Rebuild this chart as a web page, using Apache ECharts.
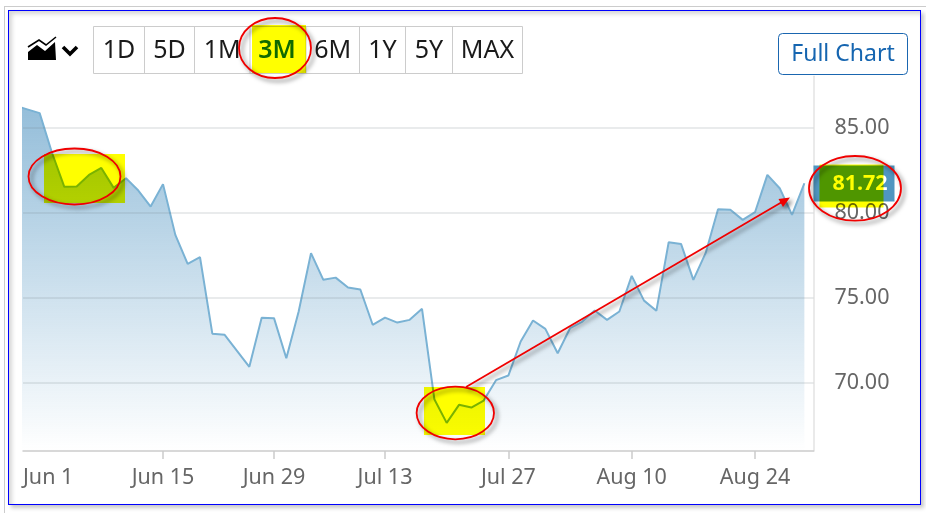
<!DOCTYPE html>
<html>
<head>
<meta charset="utf-8">
<script src="https://cdn.jsdelivr.net/npm/echarts@6/dist/echarts.min.js"></script>
<style>
html,body{margin:0;padding:0;background:#fff;width:926px;height:513px;overflow:hidden}
#outer{position:absolute;left:4px;top:6px;width:930px;height:520px;border:1px solid #ccc;box-sizing:border-box}
#frame{position:absolute;left:8px;top:10px;width:913px;height:495px;border:1px solid #0000ff;box-sizing:border-box;
 box-shadow:3px 3px 4px rgba(0,0,0,.22), inset 3px 3px 4px rgba(0,0,0,.16);background:#fff}
#chart{position:absolute;left:0;top:0;width:926px;height:513px}
</style>
</head>
<body>
<div id="outer"></div><div id="frame"></div><div id="chart"></div>
<script>
// Closing prices by trading day; the first two entries precede Jun 1 and run off the left edge.
const firstDayIndex = -2;
const closes = [86.28,86.06,85.84,83.51,81.51,81.53,82.21,82.62,81.45,82.01,81.29,80.35,81.67,78.69,76.99,77.38,
 72.89,72.82,71.88,70.94,73.82,73.80,71.45,74.19,77.62,76.05,76.18,75.60,75.48,73.41,73.83,73.54,73.70,74.35,
 69.04,67.65,68.71,68.55,68.96,70.16,70.43,72.43,73.66,73.17,71.74,73.21,73.60,74.25,73.70,74.19,76.28,74.83,
 74.23,78.26,78.16,76.05,77.63,80.20,80.16,79.57,80.02,82.21,81.43,79.86,81.72];
const tickDayIndexes = [10,19,28,38,48,58];
const tickDates = ["Jun 15","Jun 29","Jul 13","Jul 27","Aug 10","Aug 24"];
const firstDate = "Jun 1";
const yLabels = [70,75,80,85];
const rangeButtons = ["1D","5D","1M","3M","6M","1Y","5Y","MAX"];

const xMin = -1.35, xMax = 62.74;
const seriesData = closes.map((v,i)=>[i+firstDayIndex,v]);
const lastClose = closes[closes.length-1];
const FONT = '"Noto Sans","Open Sans",sans-serif';

const btnEdges = [93.5,144.5,194.5,250,306,359.5,405.5,452.5,522.5];
const g = [];
// range selector
g.push({type:'rect',shape:{x:93.5,y:26.5,width:429,height:47},style:{fill:'#fff',stroke:'#ccc',lineWidth:1},z:1});
btnEdges.slice(1,-1).forEach(x=>g.push({type:'line',shape:{x1:x,y1:26.5,x2:x,y2:73.5},style:{stroke:'#ccc',lineWidth:1},z:2}));
rangeButtons.forEach((t,i)=>{
  const cx=(btnEdges[i]+btnEdges[i+1])/2 + (t==='3M'?-1:0);
  g.push({type:'text',x:cx,y:50.5,style:{text:t,font:`${t==='3M'?'600 ':''}25px ${FONT}`,fill:t==='3M'?'#0f6a10':'#1a1a1a',align:'center',verticalAlign:'middle'},z:3});
});
// chart type icon
g.push({type:'polygon',shape:{points:[[28,60],[28,52],[37,45],[45,51],[55,42],[56,60]]},style:{fill:'#000'},z:3});
g.push({type:'polyline',shape:{points:[[28,47],[39,40],[46,45],[56,37]]},style:{stroke:'#000',fill:null,lineWidth:1.6},z:3});
g.push({type:'polyline',shape:{points:[[63,47],[70,54],[77,47]]},style:{stroke:'#000',fill:null,lineWidth:3.6},z:3});
// full chart button
g.push({type:'rect',shape:{x:778.5,y:33.5,width:129,height:41,r:4},style:{fill:'#fff',stroke:'#1a66b0',lineWidth:1},z:3});
g.push({type:'text',x:843,y:54,style:{text:'Full Chart',font:`23px ${FONT}`,fill:'#1565b0',align:'center',verticalAlign:'middle'},z:4});
// current price flag
g.push({type:'rect',shape:{x:813.5,y:165.5,width:81,height:36},style:{fill:'#4f96c0'},z:20});
g.push({type:'text',x:860,y:183.5,style:{text:lastClose.toFixed(2),font:`bold 21.5px ${FONT}`,fill:'#fff',align:'center',verticalAlign:'middle'},z:21});
// highlighter rectangles
[[252,25,54,48],[44,154,81,49],[424,387,61,48],[819.5,164.5,64,43]].forEach(r=>{
  g.push({type:'rect',shape:{x:r[0],y:r[1],width:r[2],height:r[3]},style:{fill:'#ffff00',blend:'multiply'},z:30});
});
// hand-drawn ellipses and arrow
const shadow={shadowBlur:4,shadowOffsetX:3,shadowOffsetY:3,shadowColor:'rgba(0,0,0,.5)'};
[[275,48,36,30],[74.5,176.5,46,28],[455.3,413,38.7,26.3],[855,188.3,46,32.3]].forEach(e=>{
  g.push({type:'ellipse',shape:{cx:e[0],cy:e[1],rx:e[2],ry:e[3]},style:Object.assign({fill:null,stroke:'#f00000',lineWidth:1.8},shadow),z:40});
});
g.push({type:'line',shape:{x1:466,y1:387,x2:782,y2:202},style:Object.assign({stroke:'#f00000',lineWidth:1.8},shadow),z:40});
g.push({type:'polygon',shape:{points:[[790,197.5],[778.5,199],[783,207]]},style:Object.assign({fill:'#f00000'},shadow),z:41});

const chart = echarts.init(document.getElementById('chart'),null,{renderer:'canvas',width:926,height:513});
chart.setOption({
  animation:false,
  backgroundColor:'transparent',
  grid:{left:23,right:112.5,top:76.3,bottom:62,containLabel:false},
  xAxis:{type:'value',min:xMin,max:xMax,
    axisLine:{show:true,onZero:false,lineStyle:{color:'#ccc',width:1.5}},
    axisTick:{show:true,length:8,customValues:tickDayIndexes,lineStyle:{color:'#ccc',width:1.5}},
    splitLine:{show:false},
    axisLabel:{customValues:[xMin].concat(tickDayIndexes),alignMinLabel:'left',showMinLabel:true,showMaxLabel:true,hideOverlap:false,
      margin:16,color:'#666',fontFamily:FONT,fontSize:21.5,
      formatter:v=>v===xMin?firstDate:tickDates[tickDayIndexes.indexOf(v)]}},
  yAxis:{type:'value',position:'right',min:66,max:88,
    axisLine:{show:true,onZero:false,lineStyle:{color:'#e3e3e3',width:1.5}},
    axisTick:{show:false},splitLine:{show:false},
    axisLabel:{customValues:yLabels,margin:21,padding:[2,0,0,0],color:'#666',fontFamily:FONT,fontSize:21.5,formatter:v=>v.toFixed(2)}},
  series:[{type:'line',data:seriesData,showSymbol:false,symbol:'none',smooth:false,
    lineStyle:{color:'#7ab2d4',width:2},
    areaStyle:{color:{type:'linear',x:0,y:0,x2:0,y2:1,colorStops:[{offset:0,color:'rgba(75,145,192,0.85)'},{offset:1,color:'rgba(75,145,192,0)'}]}},
    markLine:{silent:true,symbol:'none',animation:false,label:{show:false},
      lineStyle:{color:'rgba(110,120,130,0.2)',width:1.5,type:'solid'},
      data:yLabels.map(v=>({yAxis:v}))}}],
  graphic:g
});
</script>
</body>
</html>
